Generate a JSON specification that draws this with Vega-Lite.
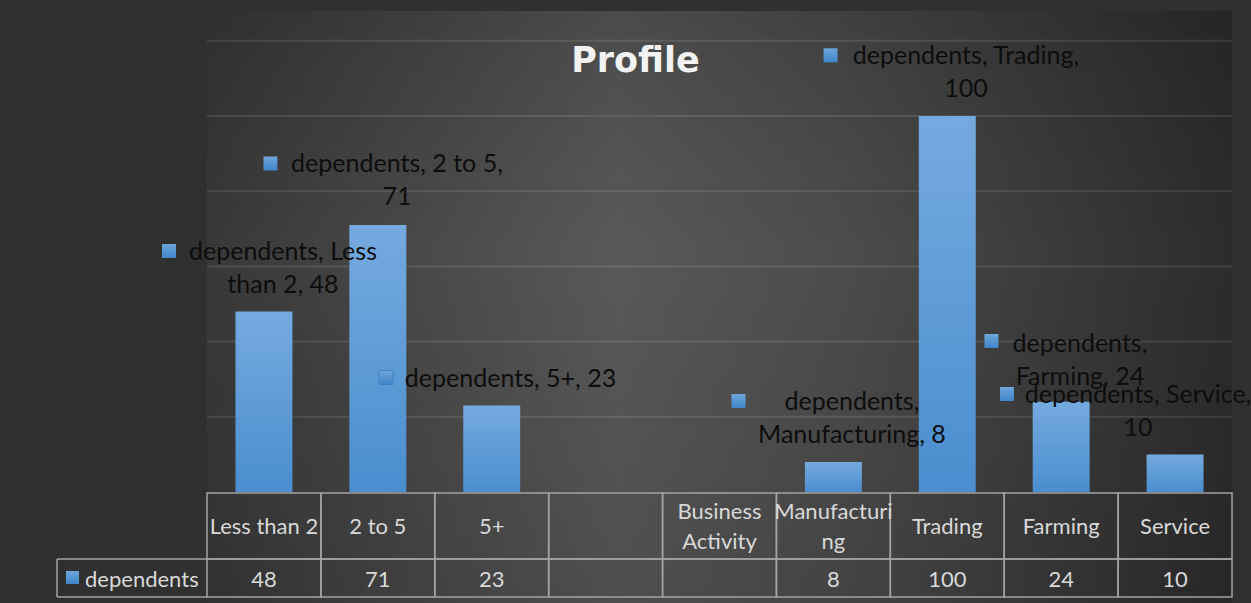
{
  "$schema": "https://vega.github.io/schema/vega-lite/v6.json",
  "width": 1025,
  "height": 592,
  "autosize": {"type": "none"},
  "padding": {"left": 207, "top": 11, "right": 19, "bottom": 0},
  "background": "#303030",
  "view": {"stroke": null},
  "config": {"font": "Lato", "axis": {"disable": true}},
  "datasets": {
    "profile": [
      {"category": "Less than 2", "header": "Less than 2", "value": 48, "label": "dependents, Less\nthan 2, 48"},
      {"category": "2 to 5", "header": "2 to 5", "value": 71, "label": "dependents, 2 to 5,\n71"},
      {"category": "5+", "header": "5+", "value": 23, "label": "dependents, 5+, 23"},
      {"category": " ", "header": "", "value": null, "label": ""},
      {"category": "Business Activity", "header": "Business\nActivity", "value": null, "label": ""},
      {"category": "Manufacturing", "header": "Manufacturi\nng", "value": 8, "label": "dependents,\nManufacturing, 8"},
      {"category": "Trading", "header": "Trading", "value": 100, "label": "dependents, Trading,\n100"},
      {"category": "Farming", "header": "Farming", "value": 24, "label": "dependents,\nFarming, 24"},
      {"category": "Service", "header": "Service", "value": 10, "label": "dependents, Service,\n10"}
    ],
    "grid": [{"v": 20}, {"v": 40}, {"v": 60}, {"v": 80}, {"v": 100}, {"v": 120}]
  },
  "data": {"name": "profile"},
  "layer": [
    {
      "transform": [{"filter": "datum.category == 'Less than 2'"}],
      "mark": {"type": "rect", "color": {"gradient": "linear", "x1": 0, "y1": 0, "x2": 1, "y2": 0, "stops": [{"offset": 0, "color": "#383838"}, {"offset": 0.4, "color": "#595959"}, {"offset": 0.62, "color": "#4c4c4c"}, {"offset": 1, "color": "#2c2c2c"}]}},
      "encoding": {}
    },
    {
      "transform": [{"filter": "datum.category == 'Less than 2'"}],
      "mark": {"type": "rect", "color": {"gradient": "linear", "x1": 0, "y1": 0, "x2": 0, "y2": 1, "stops": [{"offset": 0, "color": "rgba(0,0,0,0.16)"}, {"offset": 0.4, "color": "rgba(0,0,0,0)"}, {"offset": 1, "color": "rgba(0,0,0,0.12)"}]}},
      "encoding": {}
    },
    {
      "data": {"name": "grid"},
      "mark": {"type": "rule", "stroke": "#ffffff", "strokeOpacity": 0.1, "strokeWidth": 2},
      "encoding": {"y": {"field": "v", "type": "quantitative"}}
    },
    {
      "mark": {"type": "bar", "width": {"band": 0.5}, "color": {"gradient": "linear", "x1": 0, "y1": 0, "x2": 0, "y2": 1, "stops": [{"offset": 0, "color": "#75aadf"}, {"offset": 1, "color": "#4a8ecf"}]}},
      "encoding": {
        "x": {"field": "category", "type": "nominal", "sort": null, "scale": {"domain": ["Less than 2", "2 to 5", "5+", " ", "Business Activity", "Manufacturing", "Trading", "Farming", "Service"], "paddingInner": 0, "paddingOuter": 0}, "axis": null},
        "y": {"field": "value", "type": "quantitative", "scale": {"domain": [-29.521, 127.926], "nice": false, "zero": false}, "axis": null}
      }
    },
    {
      "mark": {"type": "rect", "fill": "transparent", "stroke": "#a3a3a3", "strokeWidth": 1.5},
      "encoding": {
        "x": {"field": "category", "type": "nominal", "sort": null},
        "y": {"datum": -0.266, "type": "quantitative"},
        "y2": {"datum": -17.82}
      }
    },
    {
      "mark": {"type": "rect", "fill": "transparent", "stroke": "#a3a3a3", "strokeWidth": 1.5},
      "encoding": {
        "x": {"field": "category", "type": "nominal", "sort": null},
        "y": {"datum": -17.82, "type": "quantitative"},
        "y2": {"datum": -27.93}
      }
    },
    {
      "transform": [{"filter": "datum.category == 'Less than 2'"}],
      "layer": [
        {"mark": {"type": "rule", "stroke": "#a3a3a3", "strokeWidth": 1.5},
         "encoding": {"x": {"field": "category", "type": "nominal", "bandPosition": -1.317}, "y": {"datum": -17.82, "type": "quantitative"}, "y2": {"datum": -27.93}}},
        {"mark": {"type": "rule", "stroke": "#a3a3a3", "strokeWidth": 1.5},
         "encoding": {"x": {"field": "category", "type": "nominal", "bandPosition": -1.317}, "x2": {"field": "category", "bandPosition": 0}, "y": {"datum": -17.82, "type": "quantitative"}}},
        {"mark": {"type": "rule", "stroke": "#a3a3a3", "strokeWidth": 1.5},
         "encoding": {"x": {"field": "category", "type": "nominal", "bandPosition": -1.317}, "x2": {"field": "category", "bandPosition": 0}, "y": {"datum": -27.93, "type": "quantitative"}}},
        {"mark": {"type": "point", "shape": "square", "filled": true, "size": 169, "opacity": 1, "color": {"gradient": "linear", "x1": 0, "y1": 0, "x2": 0, "y2": 1, "stops": [{"offset": 0, "color": "#6fa6dc"}, {"offset": 1, "color": "#3f85c9"}]}},
         "encoding": {"x": {"field": "category", "type": "nominal", "bandPosition": -1.181}, "y": {"datum": -22.74, "type": "quantitative"}}},
        {"mark": {"type": "text", "fontSize": 22, "color": "#d9d9d9", "baseline": "middle", "align": "left", "text": "dependents"},
         "encoding": {"x": {"field": "category", "type": "nominal", "bandPosition": -1.071}, "y": {"datum": -23.3, "type": "quantitative"}}}
      ]
    },
    {
      "transform": [{"filter": "indexof(datum.header, '\\n') < 0"}],
      "mark": {"type": "text", "fontSize": 22, "color": "#d9d9d9", "baseline": "middle", "align": "center"},
      "encoding": {
        "x": {"field": "category", "type": "nominal", "sort": null},
        "y": {"datum": -9.3, "type": "quantitative"},
        "text": {"field": "header", "type": "nominal"}
      }
    },
    {
      "transform": [{"filter": "indexof(datum.header, '\\n') >= 0"}],
      "mark": {"type": "text", "fontSize": 22, "color": "#d9d9d9", "baseline": "middle", "align": "center", "lineBreak": "\n", "lineHeight": 30},
      "encoding": {
        "x": {"field": "category", "type": "nominal", "sort": null},
        "y": {"datum": -5.2, "type": "quantitative"},
        "text": {"field": "header", "type": "nominal"}
      }
    },
    {
      "transform": [{"filter": "isValid(datum.value)"}],
      "mark": {"type": "text", "fontSize": 22, "color": "#d9d9d9", "baseline": "middle", "align": "center"},
      "encoding": {
        "x": {"field": "category", "type": "nominal", "sort": null},
        "y": {"datum": -23.3, "type": "quantitative"},
        "text": {"field": "value", "type": "nominal"}
      }
    },
    {
      "transform": [{"filter": "datum.category == ' '"}],
      "mark": {"type": "text", "font": "DejaVu Sans", "fontSize": 35, "fontWeight": "bold", "color": "#f2f2f2", "baseline": "alphabetic", "align": "center", "text": "Profile"},
      "encoding": {
        "x": {"field": "category", "type": "nominal", "bandPosition": 0.762},
        "y": {"datum": 111.62, "type": "quantitative"}
      }
    },
    {
      "transform": [{"filter": "datum.category == 'Less than 2'"}],
      "layer": [
        {"mark": {"type": "point", "shape": "square", "filled": true, "size": 196, "opacity": 1, "color": {"gradient": "linear", "x1": 0, "y1": 0, "x2": 0, "y2": 1, "stops": [{"offset": 0, "color": "#6fa6dc"}, {"offset": 1, "color": "#3f85c9"}]}},
         "encoding": {"x": {"field": "category", "type": "nominal", "bandPosition": -0.334}, "y": {"datum": 64.10, "type": "quantitative"}}},
        {"mark": {"type": "text", "fontSize": 25, "color": "#0d0d0d", "align": "center", "baseline": "alphabetic", "lineBreak": "\n", "lineHeight": 33},
         "encoding": {"x": {"field": "category", "type": "nominal", "bandPosition": 0.667}, "y": {"datum": 61.70, "type": "quantitative"}, "text": {"field": "label", "type": "nominal"}}}
      ]
    },
    {
      "transform": [{"filter": "datum.category == '2 to 5'"}],
      "layer": [
        {"mark": {"type": "point", "shape": "square", "filled": true, "size": 196, "opacity": 1, "color": {"gradient": "linear", "x1": 0, "y1": 0, "x2": 0, "y2": 1, "stops": [{"offset": 0, "color": "#6fa6dc"}, {"offset": 1, "color": "#3f85c9"}]}},
         "encoding": {"x": {"field": "category", "type": "nominal", "bandPosition": -0.443}, "y": {"datum": 87.37, "type": "quantitative"}}},
        {"mark": {"type": "text", "fontSize": 25, "color": "#0d0d0d", "align": "center", "baseline": "alphabetic", "lineBreak": "\n", "lineHeight": 33},
         "encoding": {"x": {"field": "category", "type": "nominal", "bandPosition": 0.668}, "y": {"datum": 85.11, "type": "quantitative"}, "text": {"field": "label", "type": "nominal"}}}
      ]
    },
    {
      "transform": [{"filter": "datum.category == '5+'"}],
      "layer": [
        {"mark": {"type": "point", "shape": "square", "filled": true, "size": 196, "opacity": 1, "stroke": "#3a7cc0", "strokeWidth": 0.8, "color": {"gradient": "linear", "x1": 0, "y1": 0, "x2": 0, "y2": 1, "stops": [{"offset": 0, "color": "#6fa6dc"}, {"offset": 1, "color": "#3f85c9"}]}},
         "encoding": {"x": {"field": "category", "type": "nominal", "bandPosition": -0.428}, "y": {"datum": 30.45, "type": "quantitative"}}},
        {"mark": {"type": "text", "fontSize": 25, "color": "#0d0d0d", "align": "center", "baseline": "alphabetic", "lineBreak": "\n", "lineHeight": 33},
         "encoding": {"x": {"field": "category", "type": "nominal", "bandPosition": 0.665}, "y": {"datum": 28.01, "type": "quantitative"}, "text": {"field": "label", "type": "nominal"}}}
      ]
    },
    {
      "transform": [{"filter": "datum.category == 'Manufacturing'"}],
      "layer": [
        {"mark": {"type": "point", "shape": "square", "filled": true, "size": 196, "opacity": 1, "color": {"gradient": "linear", "x1": 0, "y1": 0, "x2": 0, "y2": 1, "stops": [{"offset": 0, "color": "#6fa6dc"}, {"offset": 1, "color": "#3f85c9"}]}},
         "encoding": {"x": {"field": "category", "type": "nominal", "bandPosition": -0.333}, "y": {"datum": 24.20, "type": "quantitative"}}},
        {"mark": {"type": "text", "fontSize": 25, "color": "#0d0d0d", "align": "center", "baseline": "alphabetic", "lineBreak": "\n", "lineHeight": 33},
         "encoding": {"x": {"field": "category", "type": "nominal", "bandPosition": 0.663}, "y": {"datum": 21.81, "type": "quantitative"}, "text": {"field": "label", "type": "nominal"}}}
      ]
    },
    {
      "transform": [{"filter": "datum.category == 'Trading'"}],
      "layer": [
        {"mark": {"type": "point", "shape": "square", "filled": true, "size": 196, "opacity": 1, "color": {"gradient": "linear", "x1": 0, "y1": 0, "x2": 0, "y2": 1, "stops": [{"offset": 0, "color": "#6fa6dc"}, {"offset": 1, "color": "#3f85c9"}]}},
         "encoding": {"x": {"field": "category", "type": "nominal", "bandPosition": -0.525}, "y": {"datum": 116.14, "type": "quantitative"}}},
        {"mark": {"type": "text", "fontSize": 25, "color": "#0d0d0d", "align": "center", "baseline": "alphabetic", "lineBreak": "\n", "lineHeight": 33},
         "encoding": {"x": {"field": "category", "type": "nominal", "bandPosition": 0.664}, "y": {"datum": 113.83, "type": "quantitative"}, "text": {"field": "label", "type": "nominal"}}}
      ]
    },
    {
      "transform": [{"filter": "datum.category == 'Farming'"}],
      "layer": [
        {"mark": {"type": "point", "shape": "square", "filled": true, "size": 196, "opacity": 1, "color": {"gradient": "linear", "x1": 0, "y1": 0, "x2": 0, "y2": 1, "stops": [{"offset": 0, "color": "#6fa6dc"}, {"offset": 1, "color": "#3f85c9"}]}},
         "encoding": {"x": {"field": "category", "type": "nominal", "bandPosition": -0.112}, "y": {"datum": 40.16, "type": "quantitative"}}},
        {"mark": {"type": "text", "fontSize": 25, "color": "#0d0d0d", "align": "center", "baseline": "alphabetic", "lineBreak": "\n", "lineHeight": 33},
         "encoding": {"x": {"field": "category", "type": "nominal", "bandPosition": 0.665}, "y": {"datum": 37.31, "type": "quantitative"}, "text": {"field": "label", "type": "nominal"}}}
      ]
    },
    {
      "transform": [{"filter": "datum.category == 'Service'"}],
      "layer": [
        {"mark": {"type": "point", "shape": "square", "filled": true, "size": 196, "opacity": 1, "color": {"gradient": "linear", "x1": 0, "y1": 0, "x2": 0, "y2": 1, "stops": [{"offset": 0, "color": "#6fa6dc"}, {"offset": 1, "color": "#3f85c9"}]}},
         "encoding": {"x": {"field": "category", "type": "nominal", "bandPosition": -0.976}, "y": {"datum": 26.06, "type": "quantitative"}}},
        {"mark": {"type": "text", "fontSize": 25, "color": "#0d0d0d", "align": "center", "baseline": "alphabetic", "lineBreak": "\n", "lineHeight": 33},
         "encoding": {"x": {"field": "category", "type": "nominal", "bandPosition": 0.175}, "y": {"datum": 23.75, "type": "quantitative"}, "text": {"field": "label", "type": "nominal"}}}
      ]
    }
  ]
}
